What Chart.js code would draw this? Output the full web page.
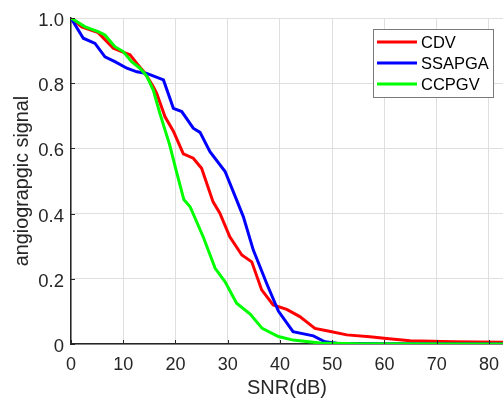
<!DOCTYPE html>
<html>
<head>
<meta charset="utf-8">
<script src="https://cdn.jsdelivr.net/npm/chart.js@4.4.0/dist/chart.umd.min.js"></script>
<style>
  html, body { margin: 0; padding: 0; background: #fff; }
</style>
</head>
<body>
<canvas id="snr-chart" width="503" height="401"></canvas>
<script>
// series
const seriesNames = ['CDV', 'SSAPGA', 'CCPGV'];

const cdvX = [0, 2.05, 5.2, 8.1, 9.7, 11.3, 12.6, 14.2, 15.75, 16.4, 18.0, 19.6, 21.5, 23.4, 25.0, 27.2, 28.5, 30.4, 32.7, 34.6, 36.5, 38.7, 41.3, 43.8, 46.7, 49.2, 52.8, 57.2, 60.4, 64.9, 73.2, 83];
const cdvY = [1.0, 0.973, 0.955, 0.907, 0.897, 0.887, 0.861, 0.83, 0.789, 0.769, 0.697, 0.653, 0.583, 0.57, 0.539, 0.436, 0.401, 0.329, 0.273, 0.252, 0.166, 0.12, 0.106, 0.084, 0.048, 0.04, 0.028, 0.022, 0.017, 0.01, 0.007, 0.005];

const ssapgaX = [0, 2.35, 4.6, 6.5, 8.4, 10.7, 12.6, 14.5, 17.7, 19.6, 21.2, 23.4, 24.7, 26.6, 29.5, 31.7, 33.0, 34.9, 37.5, 39.7, 42.5, 46.4, 48.6, 50.9, 60, 83];
const ssapgaY = [1.0, 0.938, 0.922, 0.881, 0.866, 0.846, 0.835, 0.83, 0.81, 0.723, 0.713, 0.662, 0.649, 0.59, 0.529, 0.442, 0.39, 0.288, 0.184, 0.101, 0.038, 0.025, 0.007, 0.002, 0.001, 0.0];

const ccpgvX = [0, 2.7, 5.2, 6.5, 8.4, 10.0, 11.6, 13.2, 14.5, 15.75, 17.0, 18.9, 20.1, 21.6, 22.8, 25.3, 27.6, 29.5, 31.7, 34.3, 36.6, 39.7, 42.5, 47.7, 55, 83];
const ccpgvY = [1.0, 0.973, 0.958, 0.948, 0.912, 0.897, 0.866, 0.846, 0.822, 0.779, 0.708, 0.61, 0.534, 0.443, 0.421, 0.329, 0.232, 0.191, 0.125, 0.092, 0.048, 0.023, 0.012, 0.003, 0.001, 0.0];

const xTicks = [0, 10, 20, 30, 40, 50, 60, 70, 80];
const yTicks = [0, 0.2, 0.4, 0.6, 0.8, 1];

const colors = ['#ff0000', '#0000ff', '#00ff00'];

function toPoints(xs, ys) {
  return xs.map((x, i) => ({ x: x, y: ys[i] }));
}

const axisColor = '#262626';
const gridColor = '#dfdfdf';
const fontFamily = '"Liberation Sans", Arial, Helvetica, sans-serif';

// small inward tick marks like matlab, plus the boxed legend
const matlabBits = {
  id: 'matlabBits',
  afterDraw(chart) {
    const ctx = chart.ctx;
    const area = chart.chartArea;
    const xs = chart.scales.x, ys = chart.scales.y;
    ctx.save();
    ctx.strokeStyle = axisColor;
    ctx.lineWidth = 1;
    xTicks.forEach(v => {
      const px = Math.round(xs.getPixelForValue(v)) + 0.5;
      ctx.beginPath();
      ctx.moveTo(px, area.bottom);
      ctx.lineTo(px, area.bottom - 4);
      ctx.stroke();
    });
    yTicks.forEach(v => {
      const py = Math.round(ys.getPixelForValue(v)) + 0.5;
      ctx.beginPath();
      ctx.moveTo(area.left, py);
      ctx.lineTo(area.left + 4, py);
      ctx.stroke();
    });

    // legend
    const bx = area.right - 130, by = area.top + 11, bw = 120, bh = 68;
    ctx.fillStyle = '#fff';
    ctx.fillRect(bx, by, bw, bh);
    ctx.strokeStyle = '#7a7a7a';
    ctx.lineWidth = 1;
    ctx.strokeRect(bx + 0.5, by + 0.5, bw, bh);
    ctx.font = '16.5px ' + fontFamily;
    ctx.textBaseline = 'middle';
    seriesNames.forEach((name, i) => {
      const ly = by + 13 + i * 21;
      ctx.strokeStyle = colors[i];
      ctx.lineWidth = 3;
      ctx.beginPath();
      ctx.moveTo(bx + 4, ly);
      ctx.lineTo(bx + 44, ly);
      ctx.stroke();
      ctx.fillStyle = '#000';
      ctx.fillText(name, bx + 48, ly + 1);
    });
    ctx.restore();
  }
};

const ctx = document.getElementById('snr-chart').getContext('2d');
const chart = new Chart(ctx, {
  type: 'line',
  data: {
    datasets: [
      { label: seriesNames[0], data: toPoints(cdvX, cdvY), borderColor: colors[0], order: 2 },
      { label: seriesNames[1], data: toPoints(ssapgaX, ssapgaY), borderColor: colors[1], order: 1 },
      { label: seriesNames[2], data: toPoints(ccpgvX, ccpgvY), borderColor: colors[2], order: 0 }
    ]
  },
  options: {
    responsive: false,
    animation: false,
    events: [],
    layout: { padding: { top: 18, right: 0, bottom: 0, left: 0 } },
    elements: {
      line: { borderWidth: 3, tension: 0, fill: false },
      point: { radius: 0 }
    },
    plugins: {
      legend: { display: false },
      tooltip: { enabled: false }
    },
    scales: {
      x: {
        type: 'linear',
        min: 0,
        max: 82.7,
        afterBuildTicks: s => { s.ticks = xTicks.map(v => ({ value: v })); },
        afterFit: s => { s.height = 57; s.paddingLeft = 0; s.paddingRight = 0; },
        grid: { color: gridColor, drawTicks: false },
        border: { color: axisColor, width: 1.5 },
        ticks: { color: axisColor, padding: 10, font: { family: fontFamily, size: 18 }, maxRotation: 0 },
        title: { display: true, text: 'SNR(dB)', color: axisColor, font: { family: fontFamily, size: 20 }, padding: { top: 0, bottom: 1 } }
      },
      y: {
        min: 0,
        max: 1,
        afterBuildTicks: s => { s.ticks = yTicks.map(v => ({ value: v })); },
        afterFit: s => { s.width = 71; s.paddingTop = 0; s.paddingBottom = 0; },
        grid: { color: gridColor, drawTicks: false },
        border: { color: axisColor, width: 1.5 },
        ticks: { color: axisColor, padding: 7, labelOffset: 3, font: { family: fontFamily, size: 18.5 } },
        title: { display: true, text: 'angiograpgic signal', color: axisColor, font: { family: fontFamily, size: 19.8 }, padding: { top: 11, bottom: 0 } }
      }
    }
  },
  plugins: [matlabBits]
});
</script>
</body>
</html>
